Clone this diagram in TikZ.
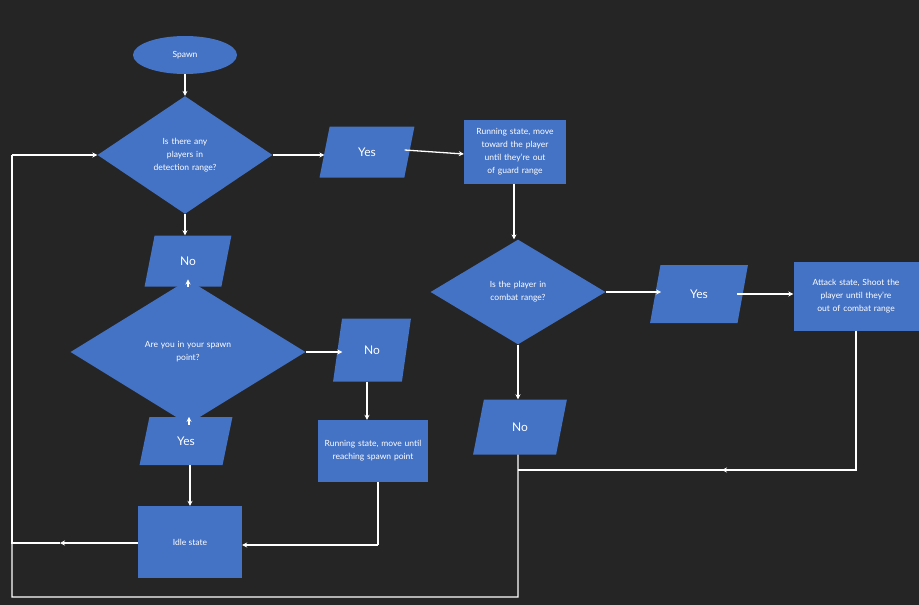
\documentclass[tikz,border=0pt]{standalone}
\usepackage{fontspec}
\setmainfont{Lato}
\usetikzlibrary{shapes.geometric,arrows.meta}
\definecolor{bg}{HTML}{252525}
\definecolor{fl}{HTML}{4472C4}
\begin{document}
\begin{tikzpicture}[x=1pt,y=-1pt,
  base/.style={fill=fl,text=white,inner sep=1pt,align=center,font=\fontsize{8.5}{13}\selectfont},
  box/.style={base,rectangle,minimum width=#1},
  dia/.style={base,diamond,minimum width=175,minimum height=90,text width=80},
  para/.style={base,trapezium,trapezium left angle=76,trapezium right angle=104,trapezium stretches=true,minimum width=#1,minimum height=51,font=\fontsize{12}{14}\selectfont},
  con/.style={draw=white,line width=1.3pt},
  arr/.style={con,-{Stealth[length=5pt,width=5pt]}}]
\fill[bg] (0,0) rectangle (919,605);
\useasboundingbox (0,0) rectangle (919,605);
\node[base,ellipse,minimum width=104,minimum height=38] (sp) at (185,55) {Spawn};
\node[dia] (d1) at (185,155) {Is there any\\players in\\detection range?};
\node[para=95] (y1) at (367,152) {Yes};
\node[box=102,minimum height=64,text width=96] (r1) at (515,152) {Running state, move toward the player until they're out of guard range};
\node[para=87] (n1) at (188,261) {No};
\node[dia,minimum width=235,minimum height=61,text width=120] (d2) at (188,352) {Are you in your spawn\\point?};
\node[para=78,minimum height=63] (n2) at (372,350) {No};
\node[box=110,minimum height=62,text width=100] (r2) at (373,451) {Running state, move until reaching spawn point};
\node[para=93,minimum height=48] (y2) at (186,441) {Yes};
\node[box=104,minimum height=72] (idle) at (190,542) {Idle state};
\node[dia] (d3) at (518,292) {Is the player in\\combat range?};
\node[para=98,minimum height=58] (y3) at (699,294) {Yes};
\node[box=125,minimum height=69,text width=118] (att) at (856,296) {Attack state, Shoot the player until they're out of combat range};
\node[para=94,minimum height=55] (n3) at (520,427) {No};
\coordinate (j) at (518,470);
\coordinate (ja) at (722,470);
\coordinate (bl) at (12,597);
\coordinate (ml) at (12,543);
\coordinate (ma) at (60,543);
\coordinate (tl) at (12,155);
\coordinate (k) at (378,545);
\draw[arr] (sp) -- (sp.south|-d1.north);
\draw[arr] (d1.east) -- (y1.west|-d1.east);
\draw[arr] (y1.east|-r1.west) ++(-5,-2) -- ([yshift=-2]r1.west);
\draw[arr] (d1.south) -- (d1.south|-n1.north);
\draw[arr] (n1.south) -- (n1.south|-d2.north);
\draw[arr] (d2.east) -- ([xshift=5]n2.west|-d2.east);
\draw[arr] ([xshift=-5]n2.south) -- ([xshift=-5]n2.south|-r2.north);
\draw[arr] ([xshift=1]d2.south) -- ([xshift=1]d2.south|-y2.north);
\draw[arr] ([xshift=4]y2.south) -- ([xshift=4]y2.south|-idle.north);
\draw[con] ([xshift=5]r2.south) -- (k);
\draw[arr] (k) -- (idle.east|-k);
\draw[arr] (idle.west|-ml) -- (ma);
\draw[con] (ma) -- (ml) -- (tl);
\draw[arr] (tl) -- (d1.west);
\draw[arr] ([xshift=-1]r1.south) -- ([xshift=-1]r1.south|-d3.north);
\draw[arr] (d3.east) -- ([xshift=6]y3.west|-d3.east);
\draw[arr] ([xshift=-6]y3.east) -- (att.west|-y3.east);
\draw[arr] (d3.south) -- (d3.south|-n3.north);
\draw[con] (att.south) -- (att.south|-j) -- (ja);
\draw[arr] (att.south|-j) -- (ja);
\draw[con] (ja) -- (j);
\draw[con] ([xshift=-2]n3.south) -- (j|-bl) -- (bl) -- (ml);
\end{tikzpicture}
\end{document}
